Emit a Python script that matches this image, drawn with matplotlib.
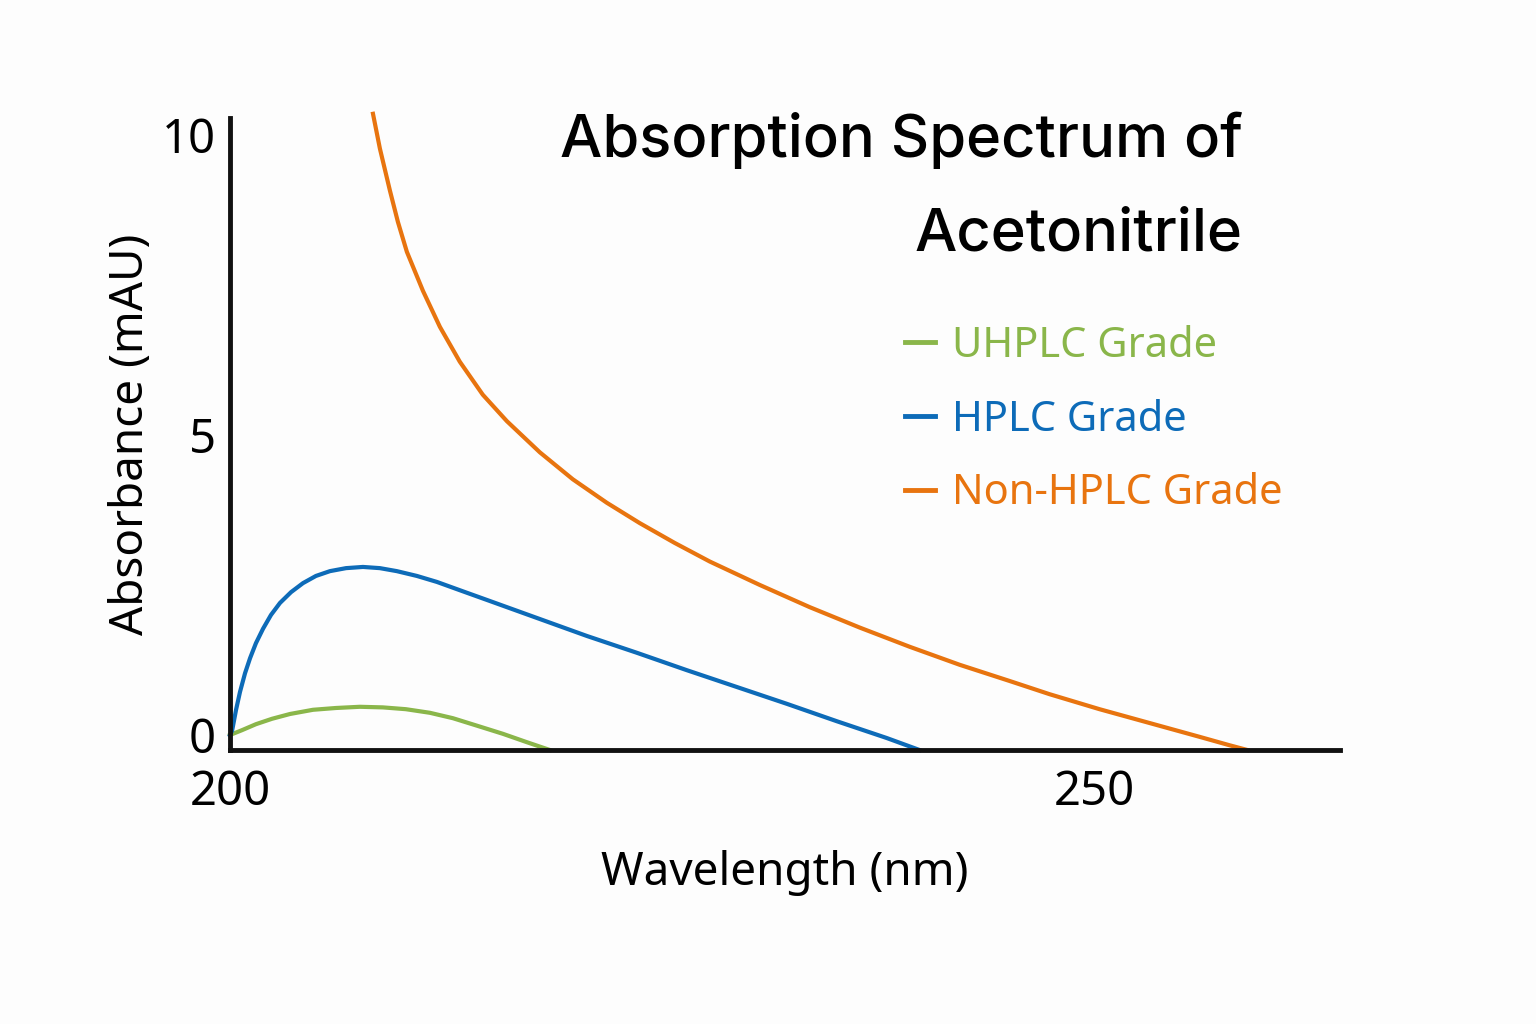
import matplotlib.pyplot as plt
import numpy as np

# wavelength (nm) / absorbance (mAU)
wl_non = [208.27, 208.67, 209.25, 209.71, 210.23, 211.16, 212.14, 213.29, 214.62, 216.01,
          217.92, 219.83, 221.79, 223.70, 225.72, 227.75, 230.64, 233.53, 236.42, 239.31,
          242.20, 245.09, 247.40, 250.29, 253.18, 256.07, 257.80, 258.84]
abs_non = [10.35, 9.77, 9.07, 8.55, 8.05, 7.40, 6.80, 6.22, 5.67, 5.23,
           4.71, 4.26, 3.87, 3.53, 3.20, 2.89, 2.50, 2.13, 1.79, 1.47,
           1.17, 0.90, 0.68, 0.43, 0.20, -0.03, -0.17, -0.25]

wl_hplc = [200.00, 200.12, 200.35, 200.58, 200.87, 201.16, 201.50, 201.91, 202.37, 202.89,
           203.53, 204.22, 204.97, 205.78, 206.71, 207.69, 208.67, 209.65, 210.81, 211.97,
           213.41, 214.86, 217.75, 220.64, 223.53, 226.42, 229.31, 232.20, 235.09, 237.98,
           239.88]
abs_hplc = [0.00, 0.07, 0.42, 0.72, 1.03, 1.28, 1.53, 1.77, 2.00, 2.20,
            2.38, 2.53, 2.65, 2.73, 2.78, 2.80, 2.78, 2.73, 2.65, 2.55,
            2.40, 2.25, 1.95, 1.65, 1.37, 1.08, 0.80, 0.52, 0.23, -0.05,
            -0.25]

wl_uhplc = [200.00, 200.69, 201.50, 202.43, 203.47, 204.80, 206.13, 207.51, 208.84, 210.17,
            211.56, 212.89, 214.34, 215.78, 217.17, 218.50]
abs_uhplc = [0.00, 0.08, 0.18, 0.27, 0.35, 0.42, 0.45, 0.47, 0.46, 0.43,
             0.37, 0.28, 0.15, 0.02, -0.12, -0.25]

series = [
    ("UHPLC Grade", wl_uhplc, abs_uhplc, "#8ab64a"),
    ("HPLC Grade", wl_hplc, abs_hplc, "#0d6bb8"),
    ("Non-HPLC Grade", wl_non, abs_non, "#e8740f"),
]

xticks = [200, 250]
yticks = [0, 5, 10]

plt.rcParams['font.family'] = ['Noto Sans', 'DejaVu Sans']

fig = plt.figure(figsize=(15.36, 10.24), dpi=100)
fig.patch.set_facecolor('#fdfdfd')
ax = fig.add_axes([230/1536, 1 - 750/1024, (1340-230)/1536, (750-118)/1024])
ax.set_facecolor('#fdfdfd')

for label, x, y, c in series:
    ax.plot(x, y, color=c, lw=3, label=label, solid_joinstyle='round',
            clip_on=False, zorder=3)

ax.set_xlim(200, 264.2)
ax.set_ylim(-0.25, 10.28)
ax.set_xticks(xticks)
ax.set_yticks(yticks)
ax.tick_params(length=0, labelsize=34, pad=10)
ax.tick_params(axis='x', pad=14)
for s in ['top', 'right']:
    ax.spines[s].set_visible(False)
for s in ['left', 'bottom']:
    ax.spines[s].set_linewidth(3.5)
    ax.spines[s].set_color('#111111')
    ax.spines[s].set_zorder(4)

ax.set_xlabel('Wavelength (nm)', fontsize=33, labelpad=24)
ax.set_ylabel('Absorbance (mAU)', fontsize=33, labelpad=6)

title_font = dict(ha='right', va='center', fontsize=43, fontweight='medium',
                  family=['Inter', 'DejaVu Sans'])
fig.text(1243/1536, 1 - 140/1024, 'Absorption Spectrum of', **title_font)
fig.text(1243/1536, 1 - 235/1024, 'Acetonitrile', **title_font)

leg = ax.legend(loc='upper left', bbox_to_anchor=(905/1536, 1 - 325/1024),
                bbox_transform=fig.transFigure, frameon=False, borderpad=0,
                borderaxespad=0, fontsize=30, handlelength=0.72,
                handletextpad=0.4, labelspacing=0.76, labelcolor='linecolor')
for h in leg.get_lines():
    h.set_linewidth(3.5)

fig.savefig('out.png', dpi=100, facecolor=fig.get_facecolor())
